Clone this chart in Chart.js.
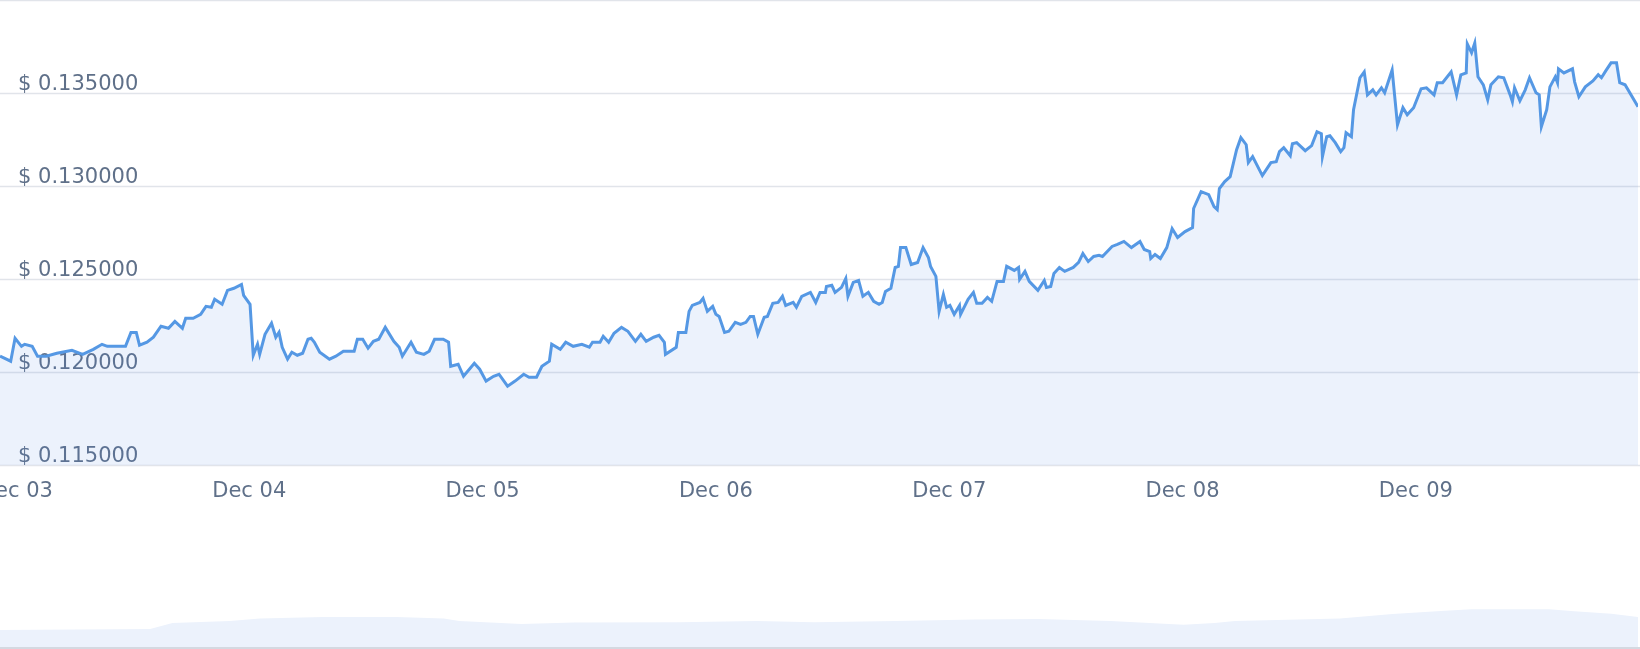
<!DOCTYPE html>
<html>
<head>
<meta charset="utf-8">
<script src="https://cdn.jsdelivr.net/npm/chart.js@4"></script>
<style>
  html, body { margin: 0; padding: 0; background: #fff; }
  #main { position: absolute; left: 0; top: 0; width: 1640px; height: 510px; }
  #nav { position: absolute; left: 0; top: 560px; width: 1640px; height: 89px; }
</style>
</head>
<body>
<div id="main"><canvas id="c1"></canvas></div>
<div id="nav"><canvas id="c2"></canvas></div>
<script>
// hours since Dec 03 00:00
const hours = [
  -1.64,-0.54,-0.09,0.57,0.90,1.67,2.22,3.11,4.21,5.76,6.86,7.96,8.85,9.40,11.27,11.83,12.38,12.71,13.48,14.14,
  14.92,15.69,16.35,17.12,17.46,18.23,19.00,19.55,20.10,20.44,21.21,21.76,22.42,23.20,23.42,24.08,24.41,24.85,25.07,25.62,
  26.29,26.73,27.06,27.39,27.94,28.38,28.94,29.49,30.04,30.37,30.70,31.25,32.25,32.91,33.68,34.79,35.12,35.67,36.22,36.77,
  37.32,37.99,38.87,39.42,39.75,40.64,41.19,41.96,42.51,43.06,43.95,44.50,44.72,45.49,46.04,47.15,47.70,48.36,49.13,49.69,
  50.57,51.34,52.23,52.78,53.55,54.10,54.87,
  55.11,55.99,56.55,57.32,58.21,58.98,59.31,60.08,60.41,60.97,61.52,62.29,62.95,63.72,64.28,64.83,65.60,66.15,66.70,66.81,
  67.92,68.14,68.91,69.24,69.57,70.35,70.68,71.12,71.67,72.00,72.33,72.89,73.33,73.99,74.54,75.09,75.53,75.87,76.31,76.97,
  77.30,77.85,78.40,78.85,79.18,79.95,80.28,80.83,81.72,82.27,82.71,83.26,83.37,83.92,84.26,84.92,85.36,85.58,86.13,86.68,
  87.12,87.68,88.23,88.78,89.11,89.44,90.00,90.44,90.77,90.99,91.54,92.09,92.75,93.31,93.86,94.08,94.63,94.96,95.40,95.73,
  96.07,96.51,97.06,97.17,97.94,98.49,98.83,99.38,99.93,100.37,100.92,101.58,101.91,102.69,103.13,103.24,103.79,104.23,105.12,105.78,
  106.00,106.44,106.77,107.33,107.88,108.76,109.31,109.75,110.30,110.86,111.41,
  111.76,112.75,113.30,113.97,114.74,115.62,116.06,116.62,116.73,117.17,117.72,118.38,118.93,119.49,120.26,121.03,121.14,121.91,122.69,123.24,
  123.57,123.79,124.34,124.90,125.56,126.00,126.55,126.77,127.21,128.21,129.09,129.64,129.97,130.41,131.08,131.30,131.74,132.62,133.28,133.83,
  134.28,134.39,134.83,135.16,135.71,136.27,136.60,136.82,137.37,137.59,138.25,138.69,139.02,139.57,139.91,140.46,140.79,141.56,142.11,142.67,
  143.11,143.77,144.54,145.09,145.87,146.20,146.75,147.63,148.19,148.63,149.18,149.29,149.73,150.06,150.39,150.94,151.39,151.72,152.49,153.04,
  153.70,153.93,154.15,154.70,155.25,155.69,156.36,156.69,156.91,157.46,157.79,158.34,158.57,158.67,159.23,160.11,160.33,160.77,161.43,162.21,
  162.76,163.09,163.53,164.08,164.64,164.97,165.52,166.85
];
const prices = [
  0.12085,0.12058,0.12181,0.12138,0.12149,0.12138,0.12085,0.12085,0.12101,0.12117,0.12095,0.12122,0.12149,0.12138,0.12138,0.12213,0.12213,0.12144,0.12160,0.12187,
  0.12246,0.12235,0.12272,0.12235,0.12289,0.12289,0.12310,0.12353,0.12348,0.12391,0.12364,0.12439,0.12450,0.12471,0.12412,0.12364,0.12090,0.12149,0.12095,0.12203,
  0.12262,0.12187,0.12213,0.12133,0.12069,0.12106,0.12090,0.12101,0.12176,0.12181,0.12160,0.12106,0.12069,0.12085,0.12112,0.12112,0.12176,0.12176,0.12128,0.12165,
  0.12176,0.12240,0.12165,0.12133,0.12085,0.12160,0.12106,0.12095,0.12112,0.12176,0.12176,0.12160,0.12031,0.12042,0.11977,0.12047,0.12015,0.11951,0.11977,0.11988,
  0.11924,0.11951,0.11988,0.11972,0.11972,0.12031,0.12058,
  0.12149,0.12122,0.12160,0.12138,0.12149,0.12133,0.12160,0.12160,0.12192,0.12160,0.12208,0.12240,0.12219,0.12165,0.12203,0.12165,0.12187,0.12197,0.12160,0.12095,
  0.12133,0.12213,0.12213,0.12326,0.12358,0.12374,0.12396,0.12326,0.12353,0.12310,0.12299,0.12213,0.12219,0.12267,0.12256,0.12267,0.12299,0.12299,0.12203,0.12294,
  0.12299,0.12369,0.12374,0.12407,0.12358,0.12374,0.12348,0.12407,0.12428,0.12374,0.12428,0.12428,0.12460,0.12466,0.12428,0.12455,0.12503,0.12407,0.12482,0.12492,
  0.12407,0.12428,0.12380,0.12364,0.12374,0.12433,0.12450,0.12562,0.12568,0.12669,0.12669,0.12578,0.12589,0.12669,0.12616,0.12568,0.12514,0.12326,0.12417,0.12348,
  0.12358,0.12310,0.12358,0.12310,0.12391,0.12428,0.12369,0.12369,0.12401,0.12380,0.12487,0.12487,0.12568,0.12546,0.12562,0.12498,0.12541,0.12487,0.12439,0.12492,
  0.12455,0.12460,0.12530,0.12562,0.12541,0.12562,0.12589,0.12637,0.12594,0.12621,0.12627,
  0.12621,0.12675,0.12686,0.12702,0.12669,0.12702,0.12659,0.12648,0.12610,0.12632,0.12610,0.12669,0.12771,0.12723,0.12755,0.12777,0.12879,0.12970,0.12954,0.12889,
  0.12873,0.12986,0.13024,0.13050,0.13195,0.13260,0.13222,0.13126,0.13158,0.13056,0.13126,0.13131,0.13185,0.13206,0.13163,0.13227,0.13233,0.13190,0.13217,0.13292,
  0.13281,0.13158,0.13265,0.13270,0.13233,0.13185,0.13206,0.13286,0.13265,0.13410,0.13582,0.13614,0.13490,0.13517,0.13490,0.13528,0.13501,0.13624,0.13329,0.13421,
  0.13383,0.13421,0.13523,0.13528,0.13490,0.13555,0.13555,0.13614,0.13490,0.13598,0.13608,0.13764,0.13716,0.13769,0.13587,0.13544,0.13463,0.13544,0.13587,0.13582,
  0.13490,0.13453,0.13528,0.13458,0.13517,0.13582,0.13501,0.13490,0.13319,0.13410,0.13533,0.13587,0.13555,0.13630,0.13608,0.13630,0.13560,0.13480,0.13533,0.13565,
  0.13598,0.13582,0.13619,0.13662,0.13662,0.13555,0.13544,0.13426
];
const dayTicks = [0, 24, 48, 72, 96, 120, 144];
const dayLabels = ['Dec 03', 'Dec 04', 'Dec 05', 'Dec 06', 'Dec 07', 'Dec 08', 'Dec 09'];
const priceTicks = [0.115, 0.120, 0.125, 0.130, 0.135, 0.140];

// navigator overview strip
const navHours = [-1.64, 13.8, 16.1, 22.0, 25.1, 31.6, 39.1, 44.0, 45.6, 52.0, 57.4, 68.2, 76.2, 82.1, 90.5,
  98.6, 105.1, 112.6, 120.1, 123.3, 125.4, 136.2, 141.6, 147.0, 149.7, 157.7, 160.3, 164.1, 166.85];
const navLevels = [17, 18, 24, 26, 28.5, 30, 30, 28.5, 26, 23, 24.5, 24.8, 26, 24.8, 26,
  27.6, 27.9, 26, 22.3, 23.9, 26, 28.5, 32.9, 36.3, 37.8, 37.8, 35.7, 33.2, 30];

const points = hours.map((h, i) => ({ x: h, y: prices[i] }));
const navPoints = navHours.map((h, i) => ({ x: h, y: navLevels[i] }));
const textColor = '#5f7089';
const font = '21px "DejaVu Sans", Verdana, sans-serif';

const gridPlugin = {
  id: 'grid',
  beforeDatasetsDraw(chart) {
    const ctx = chart.ctx, xs = chart.scales.x, ys = chart.scales.y;
    ctx.save();
    ctx.font = font;
    ctx.fillStyle = textColor;
    ctx.textBaseline = 'alphabetic';
    priceTicks.forEach(v => {
      const y = Math.round(ys.getPixelForValue(v)) + 0.5;
      ctx.strokeStyle = '#e1e4ea';
      ctx.lineWidth = 1.5;
      ctx.beginPath(); ctx.moveTo(0, y); ctx.lineTo(chart.width, y); ctx.stroke();
      if (v < 0.14) ctx.fillText('$ ' + v.toFixed(6), 18, y - 4);
    });
    ctx.textAlign = 'center';
    dayTicks.forEach((d, i) => {
      ctx.fillText(dayLabels[i], xs.getPixelForValue(d), 497);
    });
    ctx.restore();
  }
};

new Chart(document.getElementById('c1'), {
  type: 'line',
  data: { datasets: [{
    data: points,
    borderColor: '#5598e4',
    borderWidth: 3,
    backgroundColor: 'rgba(85,140,225,0.11)',
    fill: 'start',
    pointRadius: 0,
    tension: 0
  }] },
  options: {
    responsive: true, maintainAspectRatio: false, animation: false,
    layout: { padding: { top: 0, bottom: 45, left: 0, right: 2 } },
    plugins: { legend: { display: false }, tooltip: { enabled: false } },
    scales: {
      x: { type: 'linear', min: -1.64, max: 166.85, display: false },
      y: { min: 0.115, max: 0.140, display: false }
    }
  },
  plugins: [gridPlugin]
});

new Chart(document.getElementById('c2'), {
  type: 'line',
  data: { datasets: [{
    data: navPoints,
    borderWidth: 0,
    backgroundColor: '#ecf2fc',
    fill: 'start',
    pointRadius: 0,
    tension: 0
  }] },
  options: {
    responsive: true, maintainAspectRatio: false, animation: false,
    layout: { padding: { top: 0, bottom: 2, left: 0, right: 2 } },
    plugins: { legend: { display: false }, tooltip: { enabled: false } },
    scales: {
      x: { type: 'linear', min: -1.64, max: 166.85, display: false },
      y: { min: 0, max: 87, display: false }
    }
  },
  plugins: [{
    id: 'base',
    afterDraw(chart) {
      const ctx = chart.ctx;
      ctx.save();
      ctx.fillStyle = '#d4d9e1';
      ctx.fillRect(0, chart.height - 2, chart.width, 2);
      ctx.restore();
    }
  }]
});
</script>
</body>
</html>
